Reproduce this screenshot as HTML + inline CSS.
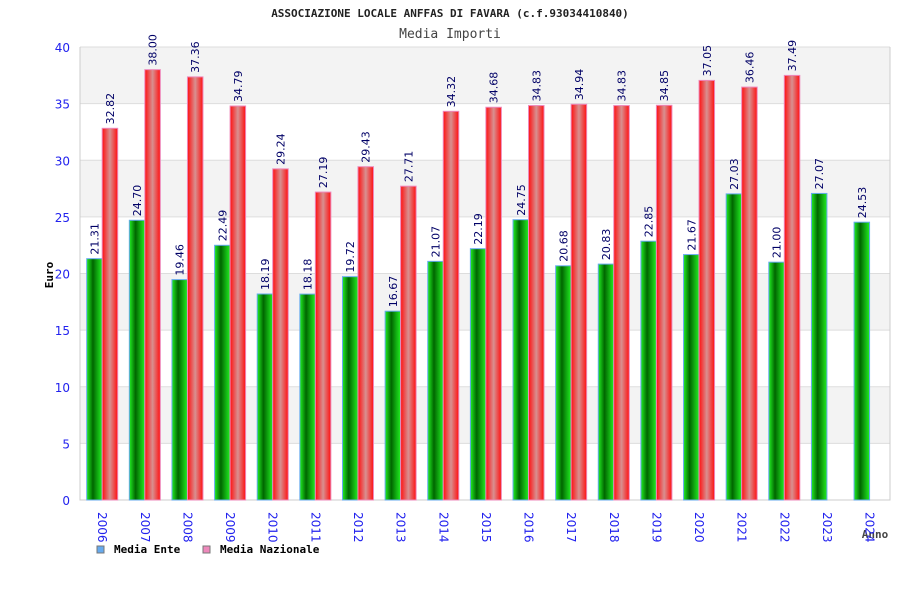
<!DOCTYPE html>
<html><head><meta charset="utf-8"><style>
body{margin:0;background:#fff}
svg{display:block;font-family:"DejaVu Sans Mono","Liberation Mono",monospace}
.s{font-family:"DejaVu Sans","Liberation Sans",sans-serif}
</style></head><body>
<svg id="c" width="900" height="600">
<defs>
<linearGradient id="gG" x1="0" x2="1"><stop offset="0" stop-color="#22ee22"/><stop offset="0.4" stop-color="#006600"/><stop offset="1" stop-color="#22ee22"/></linearGradient>
<linearGradient id="gR" x1="0" x2="1"><stop offset="0" stop-color="#ff1010"/><stop offset="0.5" stop-color="#d89090"/><stop offset="1" stop-color="#ff1010"/></linearGradient>
</defs>
<text x="450" y="17" text-anchor="middle" font-size="11" font-weight="bold" fill="#222">ASSOCIAZIONE LOCALE ANFFAS DI FAVARA (c.f.93034410840)</text>
<text x="450" y="38" text-anchor="middle" font-size="13" fill="#444">Media Importi</text>
<text transform="translate(53,275) rotate(-90)" text-anchor="middle" font-size="11" font-weight="bold" fill="#000">Euro</text>
<text x="875" y="538" text-anchor="middle" font-size="11" font-weight="bold" fill="#444">Anno</text>
<g id="grid"></g><g id="bars"></g><g id="labels"></g>
<g>
<rect x="97" y="546" width="7" height="7" fill="#66aaee" stroke="#777"/>
<text x="114" y="553" font-size="11" font-weight="bold" fill="#000">Media Ente</text>
<rect x="203" y="546" width="7" height="7" fill="#ee88bb" stroke="#777"/>
<text x="220" y="553" font-size="11" font-weight="bold" fill="#000">Media Nazionale</text>
</g>
</svg>
<script>
const categories=["2006","2007","2008","2009","2010","2011","2012","2013","2014","2015","2016","2017","2018","2019","2020","2021","2022","2023","2024"];
const enteValues=[21.31,24.70,19.46,22.49,18.19,18.18,19.72,16.67,21.07,22.19,24.75,20.68,20.83,22.85,21.67,27.03,21.00,27.07,24.53];
const nazValues=[32.82,38.00,37.36,34.79,29.24,27.19,29.43,27.71,34.32,34.68,34.83,34.94,34.83,34.85,37.05,36.46,37.49,null,null];
const yTicks=[0,5,10,15,20,25,30,35,40];
const NS="http://www.w3.org/2000/svg";
const L=80,R=890,T=47,B=500,yMax=40;
const y=v=>B-(v/yMax)*(B-T);
const step=(R-L)/categories.length;
const x=i=>L+i*step;
function mk(tag,attrs,parent){const e=document.createElementNS(NS,tag);for(const k in attrs)e.setAttribute(k,attrs[k]);parent.appendChild(e);return e;}
const grid=document.getElementById('grid'),bars=document.getElementById('bars'),labels=document.getElementById('labels');
for(let i=0;i<yTicks.length-1;i++){
  if(i%2===1){const b=mk('rect',{x:L,y:y(yTicks[i+1]),width:R-L,height:y(yTicks[i])-y(yTicks[i+1]),fill:'#f3f3f3'},grid);
  
  }
}
yTicks.forEach(t=>{
  const l=mk('line',{x1:L,x2:R,y1:y(t),y2:y(t),stroke:'#dddddd'},grid);
  
  
  const tx=mk('text',{x:70,y:y(t)+5,'text-anchor':'end','font-size':'12',fill:'#2222ee',class:'s'},grid);
  tx.textContent=t;
  
  
});
const ax=mk('path',{d:`M${L},${T}V${B}H${R}V${T}`,fill:'none',stroke:'#cccccc'},grid);


const bw=15.5,off=6.7;
categories.forEach((c,i)=>{
  const gx=x(i)+off;
  const e=enteValues[i];
  const g=mk('rect',{x:gx,y:y(e),width:bw,height:B-y(e),fill:'url(#gG)',stroke:'#66aaee','stroke-width':'1'},bars);
  
  
  const gl=mk('text',{transform:`translate(${gx+bw/2+4},${y(e)-4}) rotate(-90)`,'font-size':'11',fill:'#000066',class:'s'},labels);
  gl.textContent=e.toFixed(2);
  
  
  const n=nazValues[i];
  if(n!=null){
    const rx=gx+bw;
    const r=mk('rect',{x:rx,y:y(n),width:bw,height:B-y(n),fill:'url(#gR)',stroke:'#ee88bb','stroke-width':'1'},bars);
    
    
    const rl=mk('text',{transform:`translate(${rx+bw/2+4},${y(n)-4}) rotate(-90)`,'font-size':'11',fill:'#000066',class:'s'},labels);
    rl.textContent=n.toFixed(2);
    
    
  }
  const xl=mk('text',{transform:`translate(${gx+bw-4},${512}) rotate(90)`,'font-size':'12',fill:'#2222ee',class:'s'},labels);
  xl.textContent=c;
  
  
});
</script>
</body></html>
